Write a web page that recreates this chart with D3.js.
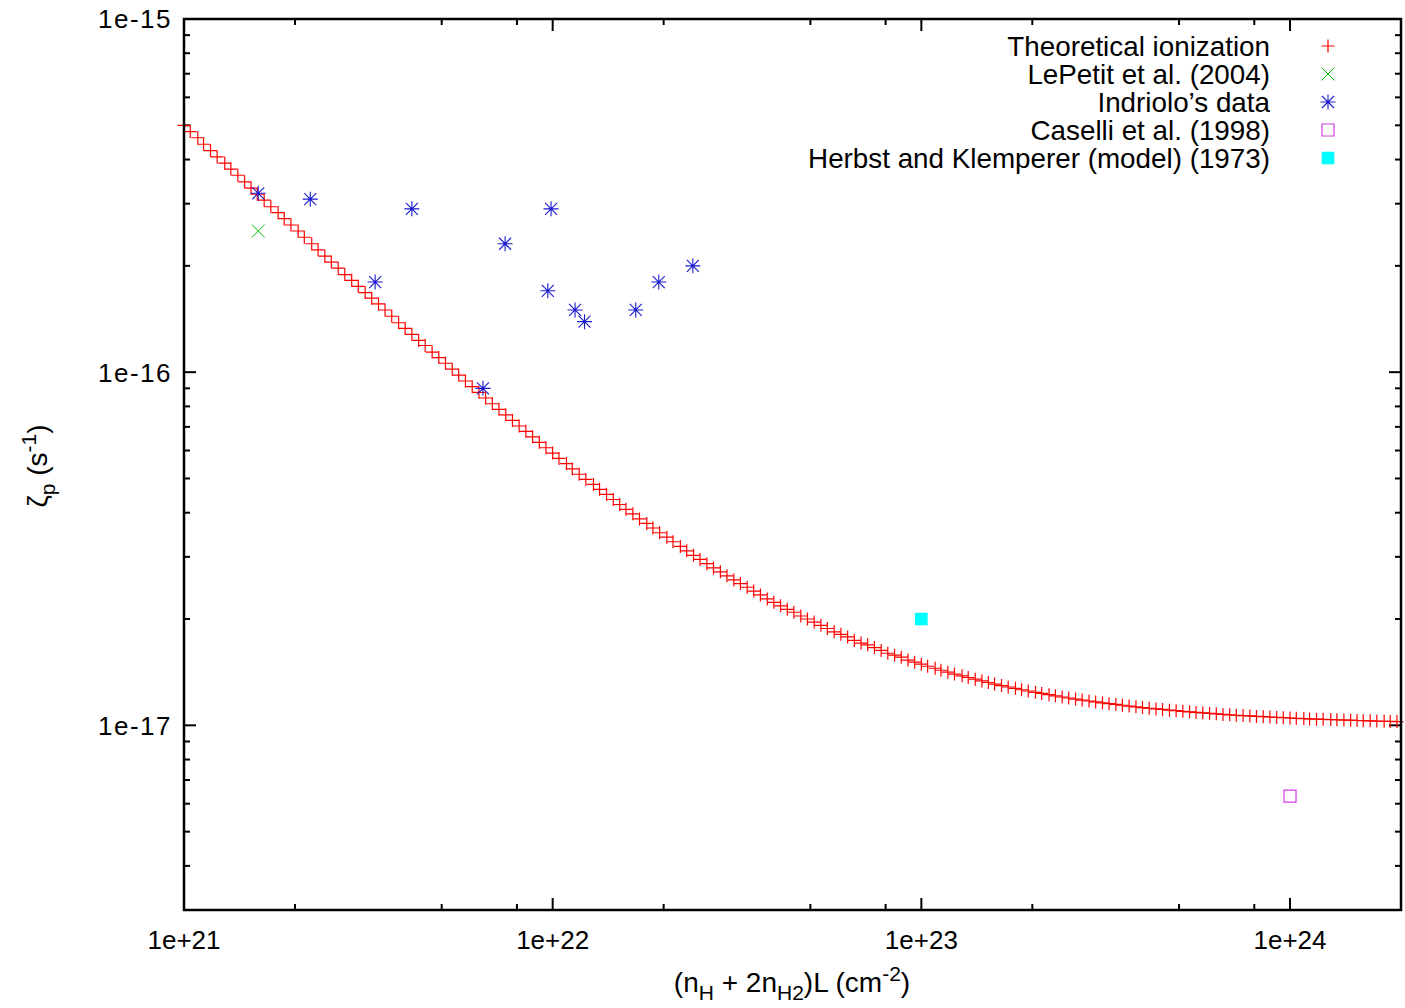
<!DOCTYPE html>
<html>
<head>
<meta charset="utf-8">
<script src="https://cdn.jsdelivr.net/npm/d3@7"></script>
<style>
  body { margin: 0; background: #fff; }
  svg { display: block; }
  text { font-family: "Liberation Sans", Arial, sans-serif; fill: #000; }
</style>
</head>
<body>
<svg id="chart" width="1405" height="1008"></svg>
<script>
// column density (cm^-2) of the theoretical curve samples
const theoryN = [
  1.00e21,1.04e21,1.09e21,1.13e21,1.18e21,1.23e21,1.29e21,1.34e21,1.40e21,1.46e21,1.52e21,1.58e21,1.65e21,1.72e21,1.80e21,1.87e21,1.95e21,2.04e21,2.12e21,2.22e21,2.31e21,2.41e21,2.51e21,2.62e21,2.73e21,2.85e21,2.97e21,3.10e21,3.23e21,3.37e21,3.51e21,3.66e21,3.82e21,3.98e21,4.15e21,4.33e21,4.51e21,4.71e21,4.91e21,5.12e21,5.34e21,5.56e21,5.80e21,6.05e21,6.31e21,6.58e21,6.86e21,7.15e21,7.46e21,7.78e21,8.11e21,8.46e21,8.82e21,9.20e21,9.59e21,
  1.00e22,1.04e22,1.09e22,1.13e22,1.18e22,1.23e22,1.29e22,1.34e22,1.40e22,1.46e22,1.52e22,1.58e22,1.65e22,1.72e22,1.80e22,1.87e22,1.95e22,2.04e22,2.12e22,2.22e22,2.31e22,2.41e22,2.51e22,2.62e22,2.73e22,2.85e22,2.97e22,3.10e22,3.23e22,3.37e22,3.51e22,3.66e22,3.82e22,3.98e22,4.15e22,4.33e22,4.51e22,4.71e22,4.91e22,5.12e22,5.34e22,5.56e22,5.80e22,6.05e22,6.31e22,6.58e22,6.86e22,7.15e22,7.46e22,7.78e22,8.11e22,8.46e22,8.82e22,9.20e22,9.59e22,
  1.00e23,1.04e23,1.09e23,1.13e23,1.18e23,1.23e23,1.29e23,1.34e23,1.40e23,1.46e23,1.52e23,1.58e23,1.65e23,1.72e23,1.80e23,1.87e23,1.95e23,2.04e23,2.12e23,2.22e23,2.31e23,2.41e23,2.51e23,2.62e23,2.73e23,2.85e23,2.97e23,3.10e23,3.23e23,3.37e23,3.51e23,3.66e23,3.82e23,3.98e23,4.15e23,4.33e23,4.51e23,4.71e23,4.91e23,5.12e23,5.34e23,5.56e23,5.80e23,6.05e23,6.31e23,6.58e23,6.86e23,7.15e23,7.46e23,7.78e23,8.11e23,8.46e23,8.82e23,9.20e23,9.59e23,
  1.00e24,1.04e24,1.09e24,1.13e24,1.18e24,1.23e24,1.29e24,1.34e24,1.40e24,1.46e24,1.52e24,1.58e24,1.65e24,1.72e24,1.80e24,1.87e24,1.95e24
];
// theoretical ionization rate (s^-1)
const theoryZeta = [
  5.00e-16,4.80e-16,4.61e-16,4.42e-16,4.24e-16,4.07e-16,3.91e-16,3.76e-16,3.61e-16,3.46e-16,3.32e-16,3.19e-16,3.07e-16,2.94e-16,2.83e-16,2.72e-16,2.61e-16,2.51e-16,2.41e-16,2.31e-16,2.22e-16,2.13e-16,2.05e-16,1.97e-16,1.89e-16,1.82e-16,1.75e-16,1.68e-16,1.62e-16,1.56e-16,1.50e-16,1.44e-16,1.38e-16,1.33e-16,1.28e-16,1.23e-16,1.19e-16,1.14e-16,1.10e-16,1.06e-16,1.02e-16,9.81e-17,9.44e-17,9.10e-17,8.77e-17,8.45e-17,8.14e-17,7.85e-17,7.57e-17,7.30e-17,7.04e-17,6.80e-17,6.56e-17,6.33e-17,6.11e-17,
  5.90e-17,5.70e-17,5.51e-17,5.32e-17,5.14e-17,4.97e-17,4.81e-17,4.66e-17,4.51e-17,4.36e-17,4.22e-17,4.09e-17,3.97e-17,3.84e-17,3.73e-17,3.62e-17,3.51e-17,3.41e-17,3.31e-17,3.21e-17,3.12e-17,3.03e-17,2.95e-17,2.87e-17,2.79e-17,2.72e-17,2.65e-17,2.58e-17,2.52e-17,2.46e-17,2.40e-17,2.34e-17,2.28e-17,2.23e-17,2.18e-17,2.13e-17,2.09e-17,2.04e-17,2.00e-17,1.96e-17,1.92e-17,1.88e-17,1.84e-17,1.81e-17,1.78e-17,1.74e-17,1.71e-17,1.69e-17,1.66e-17,1.63e-17,1.60e-17,1.58e-17,1.56e-17,1.53e-17,1.51e-17,
  1.490e-17,1.470e-17,1.451e-17,1.432e-17,1.414e-17,1.397e-17,1.381e-17,1.366e-17,1.351e-17,1.336e-17,1.322e-17,1.309e-17,1.296e-17,1.284e-17,1.273e-17,1.261e-17,1.251e-17,1.240e-17,1.231e-17,1.221e-17,1.212e-17,1.203e-17,1.195e-17,1.187e-17,1.179e-17,1.172e-17,1.165e-17,1.158e-17,1.152e-17,1.146e-17,1.140e-17,1.134e-17,1.128e-17,1.123e-17,1.118e-17,1.113e-17,1.109e-17,1.104e-17,1.100e-17,1.096e-17,1.092e-17,1.088e-17,1.084e-17,1.081e-17,1.078e-17,1.074e-17,1.071e-17,1.068e-17,1.066e-17,1.063e-17,1.060e-17,1.058e-17,1.056e-17,1.053e-17,1.051e-17,
  1.049e-17,1.047e-17,1.045e-17,1.043e-17,1.041e-17,1.040e-17,1.038e-17,1.037e-17,1.035e-17,1.034e-17,1.032e-17,1.031e-17,1.030e-17,1.028e-17,1.027e-17,1.026e-17,1.025e-17
];

const lepetitN = [1.59e21];
const lepetitZeta = [2.51e-16];

const indrioloN    = [1.59e21, 2.20e21, 3.30e21, 4.15e21, 6.47e21, 7.43e21, 9.70e21, 9.90e21, 1.15e22, 1.22e22, 1.68e22, 1.94e22, 2.40e22];
const indrioloZeta = [3.21e-16, 3.09e-16, 1.80e-16, 2.90e-16, 9.0e-17, 2.31e-16, 1.70e-16, 2.90e-16, 1.50e-16, 1.39e-16, 1.50e-16, 1.80e-16, 2.00e-16];

const caselliN = [1.0e24];
const caselliZeta = [6.3e-18];

const herbstN = [1.0e23];
const herbstZeta = [2.0e-17];

const xMajor = [1e21, 1e22, 1e23, 1e24];
const xMajorLabels = ['1e+21', '1e+22', '1e+23', '1e+24'];
const xMinorMult = [2, 5, 8];
const yMajor = [1e-17, 1e-16, 1e-15];
const yMajorLabels = ['1e-17', '1e-16', '1e-15'];
const yMinorMult = [2, 3, 4, 5, 6, 7, 8, 9];

const legendLabels = ['Theoretical ionization', 'LePetit et al. (2004)', "Indriolo\u2019s data", 'Caselli et al. (1998)', 'Herbst and Klemperer (model) (1973)'];

const margin = { top: 19, right: 4, bottom: 98, left: 184 };
const W = 1405, H = 1008;
const width = W - margin.left - margin.right;
const height = H - margin.top - margin.bottom;

const svg = d3.select('#chart');
const g = svg.append('g').attr('transform', `translate(${margin.left},${margin.top})`);

const x = d3.scaleLog().domain([1e21, 2e24]).range([0, width]);
const y = d3.scaleLog().domain([3e-18, 1e-15]).range([height, 0]);

// point shapes like gnuplot's defaults
function plusPath(s) { return `M${-s},0H${s}M0,${-s}V${s}`; }
function crossPath(s) { return `M${-s},${-s}L${s},${s}M${-s},${s}L${s},${-s}`; }
function starPath(s) { const c = s * 0.8; return plusPath(s) + crossPath(c); }
function squarePath(s) { return `M${-s},${-s}H${s}V${s}H${-s}Z`; }

const series = [
  { N: theoryN, Z: theoryZeta, path: plusPath(6.5), color: '#ff0000', fill: 'none', sw: 1.2 },
  { N: lepetitN, Z: lepetitZeta, path: crossPath(6.5), color: '#00c000', fill: 'none', sw: 1 },
  { N: indrioloN, Z: indrioloZeta, path: starPath(7.5), color: '#1a1ad0', fill: 'none', sw: 1.1 },
  { N: caselliN, Z: caselliZeta, path: squarePath(6), color: '#d040e0', fill: 'none', sw: 1.2 },
  { N: herbstN, Z: herbstZeta, path: squarePath(6.3), color: 'none', fill: '#00ffff', sw: 0 }
];

// ticks (inward, mirrored on all sides)
const tickG = g.append('g').attr('stroke', '#000').attr('stroke-width', 2);
const xMinor = [];
xMajor.forEach(v => xMinorMult.forEach(m => { if (v * m < 2e24) xMinor.push(v * m); }));
const yMinor = [];
[1e-18, 1e-17, 1e-16].forEach(v => yMinorMult.forEach(m => { if (v * m > 3e-18 && v * m < 1e-15) yMinor.push(v * m); }));

xMajor.forEach(v => {
  tickG.append('line').attr('x1', x(v)).attr('x2', x(v)).attr('y1', height).attr('y2', height - 12);
  tickG.append('line').attr('x1', x(v)).attr('x2', x(v)).attr('y1', 0).attr('y2', 12);
});
xMinor.forEach(v => {
  tickG.append('line').attr('x1', x(v)).attr('x2', x(v)).attr('y1', height).attr('y2', height - 6);
  tickG.append('line').attr('x1', x(v)).attr('x2', x(v)).attr('y1', 0).attr('y2', 6);
});
yMajor.forEach(v => {
  tickG.append('line').attr('x1', 0).attr('x2', 12).attr('y1', y(v)).attr('y2', y(v));
  tickG.append('line').attr('x1', width).attr('x2', width - 12).attr('y1', y(v)).attr('y2', y(v));
});
yMinor.forEach(v => {
  tickG.append('line').attr('x1', 0).attr('x2', 6).attr('y1', y(v)).attr('y2', y(v));
  tickG.append('line').attr('x1', width).attr('x2', width - 6).attr('y1', y(v)).attr('y2', y(v));
});

// tick labels
g.selectAll('.xl').data(xMajor).enter().append('text')
  .attr('x', d => x(d)).attr('y', height + 39)
  .attr('text-anchor', 'middle').style('font-size', '26px')
  .text((d, i) => xMajorLabels[i]);
g.selectAll('.yl').data(yMajor).enter().append('text')
  .attr('x', -12).attr('y', d => y(d)).attr('dy', '0.36em')
  .attr('text-anchor', 'end').style('font-size', '26px').style('letter-spacing', '1.5px')
  .text((d, i) => yMajorLabels[i]);

// data points
series.forEach(s => {
  g.append('g').selectAll('path').data(s.N).enter().append('path')
    .attr('transform', (d, i) => `translate(${x(d)},${y(s.Z[i])})`)
    .attr('d', s.path)
    .attr('stroke', s.color).attr('stroke-width', s.sw)
    .attr('fill', s.fill);
});

// border
g.append('rect').attr('width', width).attr('height', height)
  .attr('fill', 'none').attr('stroke', '#000').attr('stroke-width', 2.5);

// legend
const leg = svg.append('g');
legendLabels.forEach((lab, i) => {
  const cy = 46 + i * 28;
  leg.append('text').attr('x', 1270).attr('y', cy).attr('dy', '0.36em')
    .attr('text-anchor', 'end').style('font-size', '27.8px').text(lab);
  const s = series[i];
  leg.append('path').attr('transform', `translate(1328,${cy})`).attr('d', s.path)
    .attr('stroke', s.color).attr('stroke-width', s.sw).attr('fill', s.fill);
});

// axis titles
const xt = svg.append('text').attr('x', 792).attr('y', 992).attr('text-anchor', 'middle').style('font-size', '28px');
xt.append('tspan').text('(n');
xt.append('tspan').attr('dy', 8).style('font-size', '21px').text('H');
xt.append('tspan').attr('dy', -8).text(' + 2n');
xt.append('tspan').attr('dy', 8).style('font-size', '21px').text('H2');
xt.append('tspan').attr('dy', -8).text(')L (cm');
xt.append('tspan').attr('dy', -11).style('font-size', '21px').text('-2');
xt.append('tspan').attr('dy', 11).text(')');

const yt = svg.append('text').attr('transform', 'translate(47,466) rotate(-90)').attr('text-anchor', 'middle').style('font-size', '28px');
yt.append('tspan').text('\u03b6');
yt.append('tspan').attr('dy', 8).style('font-size', '21px').text('p');
yt.append('tspan').attr('dy', -8).text(' (s');
yt.append('tspan').attr('dy', -11).style('font-size', '21px').text('-1');
yt.append('tspan').attr('dy', 11).text(')');
</script>
</body>
</html>
